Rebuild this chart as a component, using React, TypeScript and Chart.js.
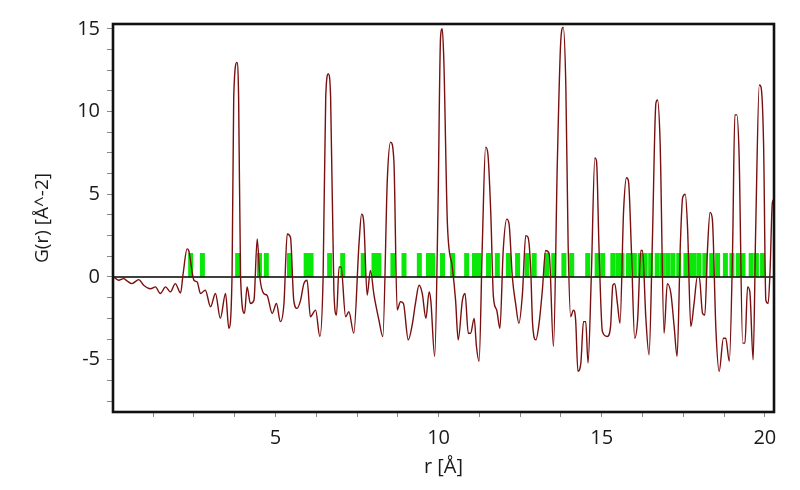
import React, { useEffect, useRef } from 'react';
import { Chart, registerables } from 'chart.js';

Chart.register(...registerables);

// r positions (Å) of the measured G(r) curve
const rValues: number[] = [
  0.04, 0.19, 0.35, 0.45, 0.60, 0.81, 0.96, 1.17, 1.32, 1.47, 1.63, 1.78, 1.93, 2.09, 2.17, 2.29, 2.34,
  2.50, 2.60, 2.70, 2.85, 3.01, 3.16, 3.31, 3.47, 3.57, 3.67, 3.72, 3.82, 3.87, 3.93, 4.05, 4.13, 4.23,
  4.34, 4.44, 4.52, 4.64, 4.74, 4.90, 5.03, 5.15, 5.26, 5.36, 5.46, 5.56, 5.66, 5.77, 5.87, 5.97, 6.07,
  6.23, 6.36, 6.46, 6.54, 6.62, 6.69, 6.79, 6.87, 6.95, 7.01, 7.15, 7.25, 7.40, 7.56, 7.64, 7.71, 7.81,
  7.91, 8.02, 8.17, 8.29, 8.43, 8.53, 8.63, 8.73, 8.83, 8.92, 9.07, 9.19, 9.29, 9.40, 9.50, 9.61, 9.71,
  9.76, 9.88, 9.98, 10.06, 10.11, 10.16, 10.27, 10.42, 10.52, 10.60, 10.73, 10.81, 10.91, 10.98, 11.09,
  11.16, 11.24, 11.34, 11.44, 11.51, 11.60, 11.68, 11.78, 11.88, 11.98, 12.09, 12.16, 12.26, 12.36,
  12.46, 12.57, 12.67, 12.74, 12.82, 12.88, 12.98, 13.08, 13.18, 13.28, 13.39, 13.52, 13.64, 13.74,
  13.82, 13.90, 13.97, 14.05, 14.13, 14.20, 14.27, 14.36, 14.44, 14.51, 14.58, 14.68, 14.79, 14.84,
  14.92, 15.02, 15.17, 15.27, 15.34, 15.40, 15.48, 15.56, 15.67, 15.76, 15.82, 15.91, 16.01, 16.10,
  16.20, 16.25, 16.35, 16.45, 16.55, 16.66, 16.71, 16.79, 16.91, 17.01, 17.12, 17.22, 17.31, 17.41,
  17.48, 17.56, 17.63, 17.73, 17.83, 17.93, 17.99, 18.09, 18.16, 18.24, 18.32, 18.39, 18.50, 18.60,
  18.73, 18.80, 18.91, 19.01, 19.08, 19.14, 19.21, 19.32, 19.39, 19.47, 19.54, 19.64, 19.72, 19.83,
  19.88, 19.96, 20.03, 20.10, 20.16, 20.23, 20.28,
];

// G(r) values (Å^-2) at the r positions above
const gValues: number[] = [
  0, -0.2, -0.1, -0.24, -0.4, -0.16, -0.5, -0.71, -0.6, -1.0, -0.6, -0.9, -0.4, -0.97, 0.2, 1.7, 1.6,
  -0.2, -0.3, -1.0, -0.8, -1.8, -1.0, -2.5, -1.0, -3.1, 0.2, 10.87, 12.97, 10.87, 0, -2.2, -0.6, -1.6,
  -1.4, 2.3, 0, -1.0, -1.1, -2.2, -1.6, -2.7, -1.6, 2.6, 2.4, -1.4, -1.9, -1.4, -0.4, -0.2, -2.4,
  -2.0, -3.6, 0, 10.87, 12.27, 10.87, -0.8, -2.3, 0.6, 0.6, -2.4, -2.1, -3.4, 2.0, 3.8, 3.2, -1.1,
  0.4, -1.1, -2.6, -3.6, 6.0, 8.15, 7.0, -2.0, -1.5, -1.6, -3.8, -2.9, -1.6, -0.5, -1.0, -2.5, -0.9,
  -1.4, -4.8, 4.0, 14.5, 15.0, 13.1, 3.2, 0.6, -1.4, -3.8, -1.4, -1.0, -3.4, -3.4, -2.5,
  -4.2, -5.1, 2.0, 7.85, 7.45, 3.8, -1.2, -2.0, -3.1, 1.6, 3.5, 3.2, 0.0, -1.6,
  -2.8, -1.0, 2.5, 2.4, 0.6, -2.8, -3.8, -2.8, -0.8, 1.6, 1.4, -4.2, 7.0, 14.1,
  15.1, 11.5, 2.0, -2.4, -2.0, -2.6, -5.7, -5.2, -2.7, -2.7, -5.2, 0, 7.2, 7.0,
  1.5, -3.3, -3.6, -3.0, -0.5, -0.4, -1.6, -2.8, 4.0, 6.0, 5.8, 1.6, -3.7, -2.6,
  1.6, 1.6, -2.4, -4.7, 2.0, 10.5, 10.7, 8.1, -3.4, -0.4, -1.0, -3.0, -4.8, 2.0,
  4.8, 5.0, 3.0, -3.0, -1.6, 0, 0, -2.2, -2.3, 1.6, 3.9, 3.5, -3.2, -5.7,
  -3.7, -3.7, -5.1, 1.6, 9.8, 9.8, 7.4, -4.0, -4.0, -0.6, -0.9, -5.0, 3.0, 11.6,
  11.5, 8.1, -1.4, -1.6, 0.4, 4.5, 4.7,
];

// reflection / distance markers (green ticks)
const markerPositions: number[] = [
  2.40, 2.76, 3.84, 4.51, 4.72, 5.43, 5.94, 6.09, 6.66, 7.06, 7.69, 8.02, 8.17, 8.60, 8.94, 9.41,
  9.69, 9.82, 10.12, 10.43, 10.86, 11.10, 11.23, 11.53, 11.80, 12.14, 12.42, 12.71, 12.93, 13.31,
  13.53, 13.84, 14.08, 14.57, 14.86, 15.03, 15.34, 15.50, 15.62, 15.82, 16.00, 16.18, 16.33, 16.50,
  16.70, 16.86, 17.02, 17.18, 17.36, 17.58, 17.68, 17.82, 17.98, 18.16, 18.37, 18.55, 18.79, 18.99,
  19.19, 19.33, 19.58, 19.74, 19.93,
];
const markerHeight = 1.45;

const xMin = 0.02;
const xMax = 20.28;
const yMin = -8.16;
const yMax = 15.29;
const tickStep = 1.25;
const labelStep = 5;

const FONT = "'Open Sans', 'Noto Sans', sans-serif";

export default function App() {
  const canvasRef = useRef<HTMLCanvasElement | null>(null);

  useEffect(() => {
    const canvas = canvasRef.current;
    if (!canvas) return;

    const curve = rValues.map((r, i) => ({ x: r, y: gValues[i] }));
    const markers: any[] = [];
    markerPositions.forEach((p) => {
      markers.push({ x: p, y: 0 }, { x: p, y: markerHeight }, { x: p, y: null });
    });
    const zeroLine = [
      { x: xMin - 1, y: 0 },
      { x: xMax + 1, y: 0 },
    ];

    const framePlugin = {
      id: 'frame',
      afterDraw(chart: any) {
        const { ctx, chartArea: a } = chart;
        ctx.save();
        ctx.strokeStyle = '#111';
        ctx.lineWidth = 2.6;
        ctx.strokeRect(a.left, a.top, a.right - a.left, a.bottom - a.top);
        ctx.restore();
      },
    };

    const labelCb = (v: any) => {
      const n = Number(v);
      return Math.abs(n / labelStep - Math.round(n / labelStep)) < 1e-6 ? String(Math.round(n)) : '';
    };

    const chart = new Chart(canvas, {
      type: 'line',
      data: {
        datasets: [
          {
            data: markers,
            borderColor: '#0ae80a',
            borderWidth: 5,
            borderCapStyle: 'butt',
            pointRadius: 0,
            spanGaps: false,
            order: 3,
          } as any,
          {
            data: zeroLine,
            borderColor: '#000',
            borderWidth: 1.6,
            pointRadius: 0,
            order: 2,
          } as any,
          {
            data: curve,
            borderColor: '#7a0f0f',
            borderWidth: 1.4,
            pointRadius: 0,
            cubicInterpolationMode: 'monotone',
            order: 1,
          } as any,
        ],
      },
      options: {
        animation: false,
        responsive: true,
        maintainAspectRatio: false,
        layout: { padding: { left: 0, right: 26, top: 24, bottom: 0 } },
        plugins: { legend: { display: false }, tooltip: { enabled: false } },
        scales: {
          x: {
            type: 'linear',
            min: xMin,
            max: xMax,
            afterFit: (s: any) => {
              s.height = 78;
            },
            border: { display: false },
            grid: { drawOnChartArea: false, drawTicks: true, tickLength: 5, color: '#888' },
            ticks: {
              stepSize: tickStep,
              includeBounds: false,
              autoSkip: false,
              maxRotation: 0,
              padding: 9,
              color: '#1a1a1a',
              font: { family: FONT, size: 20 },
              callback: labelCb,
            },
            title: {
              display: true,
              text: 'r [Å]',
              color: '#1a1a1a',
              font: { family: FONT, size: 20 },
              padding: { top: 0, bottom: 11 },
            },
          },
          y: {
            type: 'linear',
            min: yMin,
            max: yMax,
            afterFit: (s: any) => {
              s.width = 113;
            },
            border: { display: false },
            grid: { drawOnChartArea: false, drawTicks: true, tickLength: 6, color: '#888' },
            ticks: {
              stepSize: tickStep,
              includeBounds: false,
              autoSkip: false,
              padding: 7,
              color: '#1a1a1a',
              font: { family: FONT, size: 20 },
              callback: labelCb,
            },
            title: {
              display: true,
              text: 'G(r) [Å^-2]',
              color: '#1a1a1a',
              font: { family: FONT, size: 19 },
              padding: { top: 31, bottom: 0 },
            },
          },
        },
      },
      plugins: [framePlugin],
    });

    return () => {
      chart.destroy();
    };
  }, []);

  return (
    <div style={{ position: 'absolute', left: 0, top: 0, width: 800, height: 490, background: '#fff' }}>
      <canvas ref={canvasRef} />
    </div>
  );
}
